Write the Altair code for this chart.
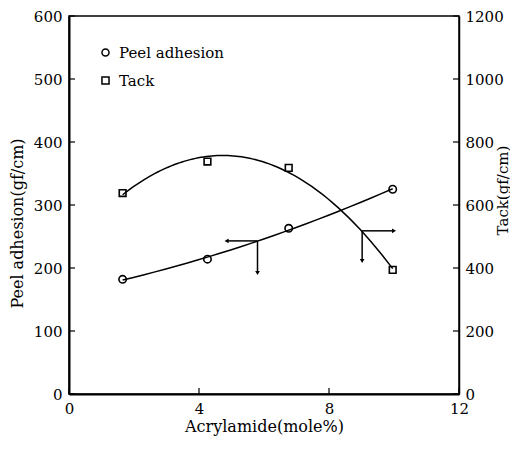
import altair as alt
import pandas as pd

# ---- data ----
acrylamide = [1.65, 4.26, 6.76, 9.96]
peel_adhesion = [182, 214, 263, 325]
tack = [638, 738, 718, 394]
series_names = ["Peel adhesion", "Tack"]

x_ticks = [0, 4, 8, 12]
peel_ticks = [0, 100, 200, 300, 400, 500, 600]
tack_ticks = [0, 200, 400, 600, 800, 1000, 1200]

# annotation arrows (peel-adhesion units): junction -> horizontal tip, vertical tip
arrow_x0 = [5.8, 9.02]
arrow_y0 = [243, 259]
arrow_x1 = [4.85, 10.0]
arrow_y1 = [192, 211]

FONT = "DejaVu Serif"

df_peel = pd.DataFrame({"x": acrylamide, "y": peel_adhesion, "series": series_names[0]})
df_tack = pd.DataFrame({"x": acrylamide, "y": tack, "series": series_names[1]})
df_arrows = pd.DataFrame({"x": arrow_x0, "y": arrow_y0, "x1": arrow_x1, "y1": arrow_y1})
df_xt = pd.DataFrame({"x": x_ticks})
df_pt = pd.DataFrame({"y": peel_ticks})
df_tt = pd.DataFrame({"y": tack_ticks})

W, H = 390, 378

xscale = alt.Scale(domain=[0, 12], nice=False, zero=False)
pscale = alt.Scale(domain=[0, 600], nice=False)
tscale = alt.Scale(domain=[0, 1200], nice=False)

shape_enc = alt.Shape(
    "series:N",
    scale=alt.Scale(domain=series_names, range=["circle", "square"]),
    legend=alt.Legend(
        title=None, orient="none", legendX=29, legendY=29, padding=0,
        labelFont=FONT, labelFontSize=15, labelColor="black", labelOffset=6,
        symbolSize=50, symbolStrokeWidth=1.5, rowPadding=12,
    ),
)

x_axis = alt.Axis(
    values=x_ticks, tickSize=0, labelPadding=7, labelFont=FONT, labelFontSize=15,
    labelColor="black", title="Acrylamide(mole%)", titleFont=FONT, titleFontSize=16,
    titleFontWeight="normal", titleColor="black", titlePadding=2, grid=False,
    domainColor="black", domainWidth=2, labelFlush=False, format="d",
)
left_axis = alt.Axis(
    values=peel_ticks, tickSize=0, labelPadding=7, labelFont=FONT, labelFontSize=15,
    labelColor="black", title="Peel adhesion(gf/cm)", titleFont=FONT, titleFontSize=16,
    titleFontWeight="normal", titleColor="black", titlePadding=8, titleY=207,
    grid=False, domainColor="black", domainWidth=2, format="d",
)
right_axis = alt.Axis(
    orient="right", values=tack_ticks, tickSize=0, labelPadding=6, labelFont=FONT,
    labelFontSize=15, labelColor="black", title="Tack(gf/cm)", titleFont=FONT,
    titleFontSize=15, titleFontWeight="normal", titleColor="black", titleAngle=270,
    titleBaseline="top", titleX=36, titleY=174, grid=False,
    domainColor="black", domainWidth=1.5, format="d",
)

X = alt.X("x:Q", scale=xscale, axis=x_axis, title="Acrylamide(mole%)")
Xs = lambda f: alt.X(f, scale=xscale, title="Acrylamide(mole%)")
YP = lambda f: alt.Y(f, scale=pscale, title="Peel adhesion(gf/cm)")
YT = lambda f: alt.Y(f, scale=tscale, title="Tack(gf/cm)")

# ---- peel adhesion (left axis) layers ----
peel_curve = alt.Chart(df_peel).transform_regression(
    "x", "y", method="poly", order=2
).mark_line(color="black", strokeWidth=1.5).encode(
    x=X, y=alt.Y("y:Q", scale=pscale, axis=left_axis, title="Peel adhesion(gf/cm)")
)
peel_pts = alt.Chart(df_peel).mark_point(
    filled=False, color="black", strokeWidth=1.6, size=55, opacity=1
).encode(x=Xs("x:Q"), y=YP("y:Q"), shape=shape_enc)

h_rules = alt.Chart(df_arrows).mark_rule(color="black", strokeWidth=1.5).encode(
    x=Xs("x:Q"), x2="x1:Q", y=YP("y:Q")
)
v_rules = alt.Chart(df_arrows).mark_rule(color="black", strokeWidth=1.5).encode(
    x=Xs("x:Q"), y=YP("y:Q"), y2="y1:Q"
)
head_left = alt.Chart(df_arrows.iloc[[0]]).mark_point(
    shape="triangle-left", filled=True, color="black", size=22, opacity=1
).encode(x=Xs("x1:Q"), y=YP("y:Q"))
head_right = alt.Chart(df_arrows.iloc[[1]]).mark_point(
    shape="triangle-right", filled=True, color="black", size=22, opacity=1
).encode(x=Xs("x1:Q"), y=YP("y:Q"))
head_down = alt.Chart(df_arrows).mark_point(
    shape="triangle-down", filled=True, color="black", size=22, opacity=1
).encode(x=Xs("x:Q"), y=YP("y1:Q"))

left_ticks = alt.Chart(df_pt).mark_rule(color="black", strokeWidth=1.2).encode(
    y=YP("y:Q"), x=alt.value(0), x2=alt.value(6)
)
bottom_ticks = alt.Chart(df_xt).mark_rule(color="black", strokeWidth=1.2).encode(
    x=Xs("x:Q"), y=alt.value(H), y2=alt.value(H - 6)
)

peel_layer = alt.layer(
    peel_curve, left_ticks, bottom_ticks, h_rules, v_rules,
    head_left, head_right, head_down, peel_pts,
)

# ---- tack (right axis) layers ----
tack_curve = alt.Chart(df_tack).transform_regression(
    "x", "y", method="poly", order=2
).mark_line(color="black", strokeWidth=1.5).encode(
    x=Xs("x:Q"), y=alt.Y("y:Q", scale=tscale, axis=right_axis, title="Tack(gf/cm)")
)
tack_pts = alt.Chart(df_tack).mark_point(
    filled=False, color="black", strokeWidth=1.6, size=45, opacity=1
).encode(x=Xs("x:Q"), y=YT("y:Q"), shape=shape_enc)
right_ticks = alt.Chart(df_tt).mark_rule(color="black", strokeWidth=1.2).encode(
    y=YT("y:Q"), x=alt.value(W - 6), x2=alt.value(W)
)
tack_layer = alt.layer(tack_curve, right_ticks, tack_pts)

chart = alt.layer(peel_layer, tack_layer).resolve_scale(y="independent").properties(
    width=W, height=H,
    autosize=alt.AutoSizeParams(type="none"),
    padding={"left": 61, "top": 8, "right": 51, "bottom": 47},
    background="white",
).configure_view(stroke="black", strokeWidth=1.5)

chart.save("out.html", embed_options={"renderer": "svg", "actions": False})
